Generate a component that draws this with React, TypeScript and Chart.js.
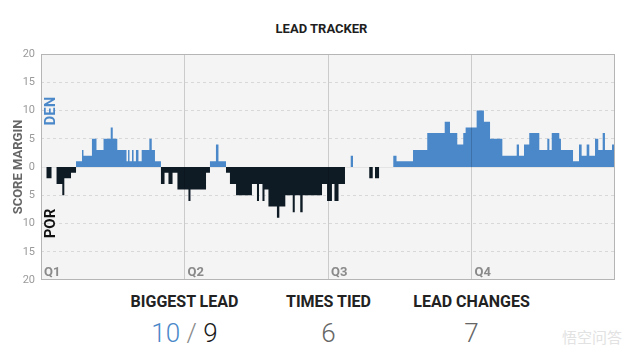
import React, { useEffect, useRef } from "react";
import { Chart, registerables } from "chart.js";

Chart.register(...registerables);

const FONT = "Roboto, 'Noto Sans', 'DejaVu Sans', Arial, sans-serif";
const DEN_BLUE = "#4a88c9";
const POR_DARK = "#0e1b25";

const chartTitle = "LEAD TRACKER";
const yAxisTitle = "SCORE MARGIN";
const homeTeam = "DEN";
const awayTeam = "POR";

// game minute at which the score margin (DEN minus POR) changes
const changeMinutes = [
  0, 0.46, 0.88, 1.3, 1.78, 1.95, 2.51, 2.93, 3.43, 3.55,
  4.26, 4.64, 5.23, 5.83, 6.0, 6.38, 7.15, 7.28, 7.4, 7.61,
  7.74, 7.94, 8.15, 8.42, 9.06, 9.26, 9.53, 10.03, 10.33, 10.66,
  11.0, 11.41, 12.33, 12.5, 13.8, 14.13, 14.63, 14.84, 15.47, 15.8,
  16.31, 17.64, 18.06, 18.23, 18.52, 18.69, 19.02, 19.73, 19.93, 20.43,
  21.05, 21.22, 21.68, 21.88, 23.5, 23.92, 24.33, 24.54, 24.88, 25.42,
  25.9, 26.09, 27.45, 27.74, 27.93, 28.27, 29.46, 29.73, 31.11, 32.3,
  33.76, 34.2, 34.81, 35.31, 35.51, 36.43, 37.04, 37.55, 38.58, 39.78,
  39.97, 40.39, 40.83, 41.67, 42.34, 42.51, 42.71, 43.34, 43.48, 44.49,
  44.99, 45.21, 45.63, 45.85, 46.33, 46.6, 46.97, 47.16, 47.75, 48,
];
const margins = [
  0, -2, 0, -3, -5, -2, -1, 1, 3, 2,
  5, 3, 5, 7, 5, 3, 1, 3, 1, 3,
  1, 3, 1, 3, 5, 3, 1, -3, -1, -3,
  -1, -4, -6, -4, -1, 1, 4, 1, -1, -3,
  -5, -3, -6, -3, -6, -4, -7, -9, -7, -5,
  -8, -5, -8, -5, -3, -6, -3, -6, -3, 0,
  2, 0, -2, 0, -2, 0, 2, 1, 3, 6,
  8, 6, 4, 6, 7, 10, 8, 5, 2, 4,
  2, 4, 6, 3, 5, 3, 6, 5, 3, 1,
  4, 2, 4, 2, 5, 3, 6, 3, 4, 4,
];

const quarterLabels = ["Q1", "Q2", "Q3", "Q4"];
const quarterStartMinutes = [0, 12, 24, 36];
const yTickValues = [-20, -15, -10, -5, 0, 5, 10, 15, 20];

const statLabels = ["BIGGEST LEAD", "TIMES TIED", "LEAD CHANGES"];
const biggestLeadDen = 10;
const biggestLeadPor = 9;
const timesTied = 6;
const leadChanges = 7;
const statCenters = [184.5, 328.5, 471.5];

const trackerPlugin = {
  id: "tracker",
  beforeDraw(chart: any) {
    const { ctx, chartArea: a } = chart;
    ctx.save();
    ctx.fillStyle = "#f4f4f4";
    ctx.fillRect(a.left, a.top, a.right - a.left, a.bottom - a.top);
    ctx.restore();
  },
  afterDraw(chart: any) {
    const { ctx, chartArea: a, scales } = chart;
    const xs = scales.x;
    const ys = scales.y;
    ctx.save();
    ctx.strokeStyle = "#b5b5b5";
    ctx.lineWidth = 1;
    ctx.strokeRect(a.left + 0.5, a.top + 0.5, a.right - a.left - 1, a.bottom - a.top - 1);

    ctx.fillStyle = "#8a8a8a";
    ctx.font = `bold 13px ${FONT}`;
    ctx.textAlign = "left";
    ctx.textBaseline = "alphabetic";
    quarterLabels.forEach((q, i) => {
      ctx.fillText(q, xs.getPixelForValue(quarterStartMinutes[i]) + 3, a.bottom - 4);
    });

    ctx.font = `bold 15px ${FONT}`;
    ctx.textAlign = "center";
    ctx.textBaseline = "middle";
    const drawRot = (text: string, color: string, y: number) => {
      ctx.save();
      ctx.translate(a.left + 10.5, y);
      ctx.rotate(-Math.PI / 2);
      ctx.fillStyle = color;
      ctx.fillText(text, 0, 0);
      ctx.restore();
    };
    drawRot(homeTeam, DEN_BLUE, ys.getPixelForValue(10) + 0.5);
    drawRot(awayTeam, "#111111", ys.getPixelForValue(-10));
    ctx.restore();
  },
};

function App() {
  const ref = useRef<HTMLCanvasElement | null>(null);

  useEffect(() => {
    if (!ref.current) return;
    const points = changeMinutes.map((x, i) => ({ x, y: margins[i] }));
    const chart = new Chart(ref.current, {
      type: "line",
      data: {
        datasets: [
          {
            data: points,
            stepped: true,
            fill: { target: "origin", above: DEN_BLUE, below: POR_DARK },
            borderColor: "rgba(0,0,0,0)",
            borderWidth: 0,
            pointRadius: 0,
            pointHoverRadius: 0,
          } as any,
        ],
      },
      options: {
        responsive: false,
        animation: false,
        events: [],
        layout: { padding: { top: 54, right: 25, bottom: 10, left: 0 } },
        plugins: {
          legend: { display: false },
          tooltip: { enabled: false },
          title: { display: false },
        },
        scales: {
          x: {
            type: "linear",
            min: 0,
            max: 48,
            ticks: { display: false, stepSize: 12 },
            grid: {
              drawTicks: false,
              z: 1,
              color: (c: any) =>
                c.tick && (c.tick.value === 0 || c.tick.value === 48)
                  ? "rgba(0,0,0,0)"
                  : "rgba(0,0,0,0.17)",
            },
            border: { display: false },
            afterFit: (s: any) => {
              s.height = 0;
              s.paddingLeft = 0;
              s.paddingRight = 0;
            },
          },
          y: {
            min: yTickValues[0],
            max: yTickValues[yTickValues.length - 1],
            afterBuildTicks: (s: any) => {
              s.ticks = yTickValues.map((v) => ({ value: v }));
            },
            ticks: {
              callback: (v: any) => String(Math.abs(Number(v))),
              color: "#9a9a9a",
              font: { family: FONT, size: 11 },
              padding: 6,
            },
            grid: {
              drawTicks: false,
              color: (c: any) => {
                const v = c.tick ? c.tick.value : 0;
                if (Math.abs(v) === 20) return "rgba(0,0,0,0)";
                if (v === 0) return "#e4e4e4";
                return "#d8d8d8";
              },
            },
            border: {
              display: false,
              dash: (c: any) => (c.tick && c.tick.value === 0 ? [] : [3, 3]),
            },
            title: {
              display: true,
              text: yAxisTitle,
              color: "#666666",
              font: { family: FONT, size: 13, weight: "bold" },
              padding: { top: 11, bottom: 0 },
            },
            afterFit: (s: any) => {
              s.width = 41;
              s.paddingTop = 0;
              s.paddingBottom = 0;
            },
          },
        },
      } as any,
      plugins: [trackerPlugin],
    });
    return () => chart.destroy();
  }, []);

  const col = (cx: number, top: number): React.CSSProperties => ({
    position: "absolute",
    left: cx - 100,
    top,
    width: 200,
    textAlign: "center",
    whiteSpace: "nowrap",
  });

  return (
    <div
      style={{
        position: "absolute",
        left: 0,
        top: 0,
        width: 640,
        height: 359,
        background: "#ffffff",
        fontFamily: FONT,
        overflow: "hidden",
      }}
    >
      <div
        style={{
          position: "absolute",
          left: 0,
          top: 22,
          width: 643,
          textAlign: "center",
          fontSize: 13,
          lineHeight: "13px",
          fontWeight: 700,
          color: "#1e1e1e",
        }}
      >
        {chartTitle}
      </div>
      <canvas
        ref={ref}
        width={640}
        height={290}
        style={{ position: "absolute", left: 0, top: 0, width: 640, height: 290 }}
      />
      {statLabels.map((s, i) => (
        <div
          key={s}
          style={{
            ...col(statCenters[i], 294),
            fontSize: 16,
            lineHeight: "16px",
            fontWeight: 700,
            color: "#222222",
          }}
        >
          {s}
        </div>
      ))}
      <div style={{ ...col(statCenters[0], 320), fontSize: 26, lineHeight: "26px", fontWeight: 300 }}>
        <span style={{ color: DEN_BLUE }}>{biggestLeadDen}</span>
        <span style={{ color: "#8a8a8a" }}> / </span>
        <span style={{ color: "#1a1a1a" }}>{biggestLeadPor}</span>
      </div>
      <div style={{ ...col(statCenters[1], 320), fontSize: 26, lineHeight: "26px", fontWeight: 300, color: "#666666" }}>
        {timesTied}
      </div>
      <div style={{ ...col(statCenters[2], 320), fontSize: 26, lineHeight: "26px", fontWeight: 300, color: "#666666" }}>
        {leadChanges}
      </div>
      <div
        style={{
          position: "absolute",
          left: 562,
          top: 329,
          fontSize: 15,
          lineHeight: "15px",
          color: "#e2e2e2",
          fontFamily: "'Noto Sans CJK SC', sans-serif",
        }}
      >
        悟空问答
      </div>
    </div>
  );
}

export default App;
